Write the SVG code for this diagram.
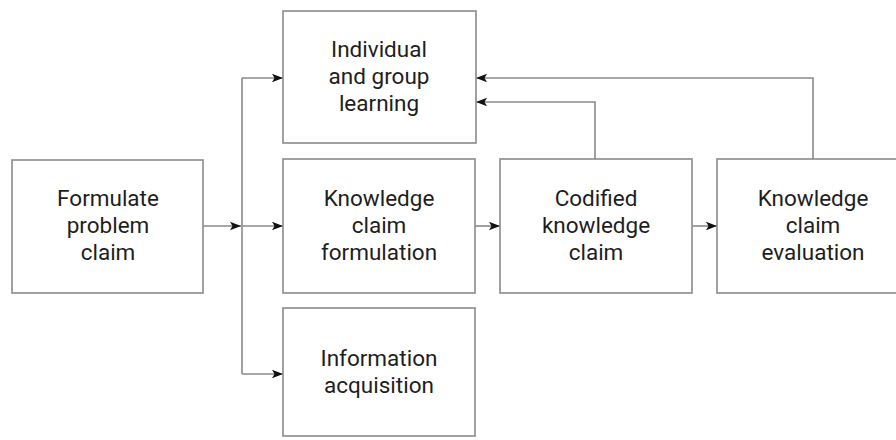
<svg xmlns="http://www.w3.org/2000/svg" width="896" height="440" viewBox="0 0 896 440">
  <style>
    .box { fill: #ffffff; stroke: #8a8a8a; stroke-width: 1.6; }
    .lbl { font-family: Roboto, "Liberation Sans", Arial, sans-serif; font-size: 22.5px; fill: #1e1e1e; text-anchor: middle; }
    .wire { fill: none; stroke: #8a8a8a; stroke-width: 1.6; }
  </style>
  <defs>
    <marker id="arrow" markerUnits="userSpaceOnUse" markerWidth="13" markerHeight="11" refX="12" refY="5.5" orient="auto">
      <path d="M1,1.2 L12,5.5 L1,9.8 L3.5,5.5 Z" fill="#111111"/>
    </marker>
  </defs>
  <rect width="896" height="440" fill="#ffffff"/>

  <!-- connectors -->
  <g id="connectors">
    <line class="wire" x1="203" y1="226" x2="241" y2="226" marker-end="url(#arrow)"/>
    <line class="wire" x1="242" y1="78" x2="242" y2="374"/>
    <line class="wire" x1="242" y1="78" x2="283" y2="78" marker-end="url(#arrow)"/>
    <line class="wire" x1="242" y1="226" x2="283" y2="226" marker-end="url(#arrow)"/>
    <line class="wire" x1="242" y1="374" x2="283" y2="374" marker-end="url(#arrow)"/>
    <line class="wire" x1="475" y1="226" x2="500" y2="226" marker-end="url(#arrow)"/>
    <line class="wire" x1="692" y1="226" x2="717" y2="226" marker-end="url(#arrow)"/>
    <polyline class="wire" points="595,159 595,102 476,102" marker-end="url(#arrow)"/>
    <polyline class="wire" points="813,159 813,78 476,78" marker-end="url(#arrow)"/>
  </g>

  <g id="formulate-problem-claim">
    <rect class="box" x="12" y="160" width="191" height="133"/>
    <text class="lbl" x="108" y="206">Formulate</text>
    <text class="lbl" x="108" y="233">problem</text>
    <text class="lbl" x="108" y="260">claim</text>
  </g>

  <g id="individual-group-learning">
    <rect class="box" x="283" y="11" width="193" height="132"/>
    <text class="lbl" x="379" y="57">Individual</text>
    <text class="lbl" x="379" y="84">and group</text>
    <text class="lbl" x="379" y="111">learning</text>
  </g>

  <g id="knowledge-claim-formulation">
    <rect class="box" x="283" y="159" width="192" height="134"/>
    <text class="lbl" x="379" y="206">Knowledge</text>
    <text class="lbl" x="379" y="233">claim</text>
    <text class="lbl" x="379" y="260">formulation</text>
  </g>

  <g id="information-acquisition">
    <rect class="box" x="283" y="308" width="192" height="128"/>
    <text class="lbl" x="379" y="366">Information</text>
    <text class="lbl" x="379" y="393">acquisition</text>
  </g>

  <g id="codified-knowledge-claim">
    <rect class="box" x="500" y="159" width="192" height="134"/>
    <text class="lbl" x="596" y="206">Codified</text>
    <text class="lbl" x="596" y="233">knowledge</text>
    <text class="lbl" x="596" y="260">claim</text>
  </g>

  <g id="knowledge-claim-evaluation">
    <rect class="box" x="717" y="159" width="192" height="134"/>
    <text class="lbl" x="813" y="206">Knowledge</text>
    <text class="lbl" x="813" y="233">claim</text>
    <text class="lbl" x="813" y="260">evaluation</text>
  </g>
</svg>
